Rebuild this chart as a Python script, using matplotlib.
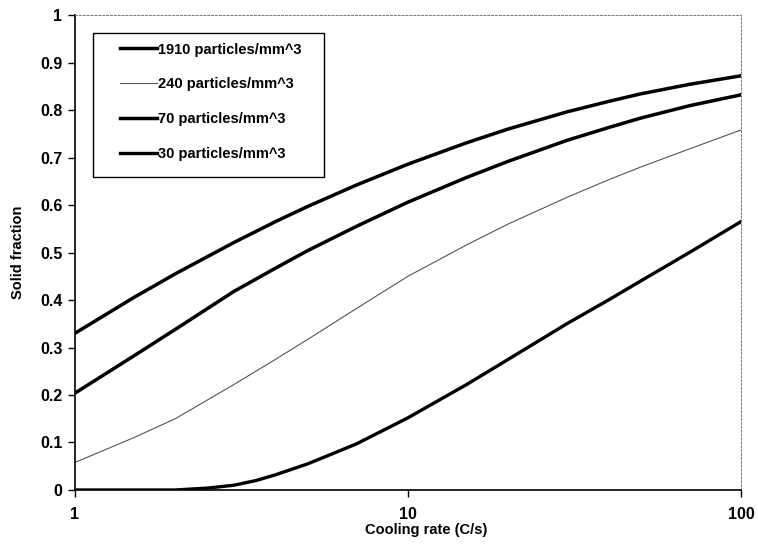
import numpy as np
import matplotlib
matplotlib.use("Agg")
import matplotlib.pyplot as plt
from matplotlib.patches import Rectangle

plt.rcParams["font.family"] = ["Liberation Sans", "DejaVu Sans"]
plt.rcParams["font.weight"] = "bold"

# cooling rate (C/s) vs solid fraction
rate = [1, 1.5, 2, 3, 4, 5, 7, 10, 15, 20, 30, 40, 50, 70, 100]
frac_1910 = [0.33, 0.405, 0.455, 0.521, 0.565, 0.597, 0.642, 0.686, 0.731, 0.760, 0.796, 0.818, 0.834, 0.854, 0.872]
frac_240 = [0.058, 0.110, 0.150, 0.222, 0.275, 0.317, 0.382, 0.450, 0.516, 0.560, 0.616, 0.653, 0.680, 0.718, 0.758]
frac_70 = [0.204, 0.282, 0.338, 0.418, 0.467, 0.504, 0.555, 0.606, 0.658, 0.692, 0.736, 0.763, 0.783, 0.809, 0.832]

rate_30 = [1, 1.5, 2, 2.5, 3, 3.5, 4, 5, 7, 10, 15, 20, 30, 40, 50, 70, 100]
frac_30 = [0, 0, 0, 0.004, 0.01, 0.02, 0.032, 0.055, 0.097, 0.152, 0.222, 0.275, 0.35, 0.40, 0.44, 0.50, 0.565]

labels = ["1910 particles/mm^3", "240 particles/mm^3", "70 particles/mm^3", "30 particles/mm^3"]
yticks = [0, 0.1, 0.2, 0.3, 0.4, 0.5, 0.6, 0.7, 0.8, 0.9, 1]
ytick_labels = ["0", "0.1", "0.2", "0.3", "0.4", "0.5", "0.6", "0.7", "0.8", "0.9", "1"]

fig = plt.figure(figsize=(7.58, 5.5), dpi=100)
ax = fig.add_axes([0.0989, 0.1091, 0.8786, 0.8636])

ax.plot(rate, frac_1910, color="black", lw=2.5, label=labels[0])
ax.plot(rate, frac_240, color="#555555", lw=0.8, label=labels[1])
ax.plot(rate, frac_70, color="black", lw=2.5, label=labels[2])
ax.plot(rate_30, frac_30, color="black", lw=2.4, label=labels[3])

ax.set_xscale("log")
ax.set_xlim(1, 100)
ax.set_ylim(0, 1)
ax.set_xticks([1, 10, 100])
ax.set_xticklabels(["1", "10", "100"])
ax.xaxis.set_minor_locator(matplotlib.ticker.NullLocator())
ax.set_yticks(yticks)
ax.set_yticklabels(ytick_labels)
ax.tick_params(direction="out", length=5, width=1, labelsize=11.5)
ax.tick_params(axis="y", pad=4)
ax.tick_params(axis="x", pad=7)

for side in ["top", "right"]:
    ax.spines[side].set_linestyle((0, (2, 2)))
    ax.spines[side].set_linewidth(0.7)
    ax.spines[side].set_color("#777777")
for side in ["left", "bottom"]:
    ax.spines[side].set_linewidth(1.2)

ax.set_xlabel("Cooling rate (C/s)", fontsize=10.5, fontweight="bold")
ax.xaxis.set_label_coords(0.528, -0.069)
ax.set_ylabel("Solid fraction", fontsize=10.5, fontweight="bold")
ax.yaxis.set_label_coords(-0.075, 0.5)

# legend box drawn separately: the padding in the original is uneven
ax.add_patch(Rectangle((0.027, 0.659), 0.347, 0.303, transform=ax.transAxes,
                       facecolor="white", edgecolor="black", lw=1.0, zorder=3))
leg_size = 10.5
leg = ax.legend(loc="upper left", bbox_to_anchor=(0.0676, 0.942), borderaxespad=0,
                borderpad=0, fontsize=leg_size, frameon=False,
                handlelength=2.4 * 11 / leg_size, handletextpad=0.1,
                labelspacing=1.37 * 11 / leg_size)
leg.set_zorder(4)

fig.savefig("out.png", dpi=100)
